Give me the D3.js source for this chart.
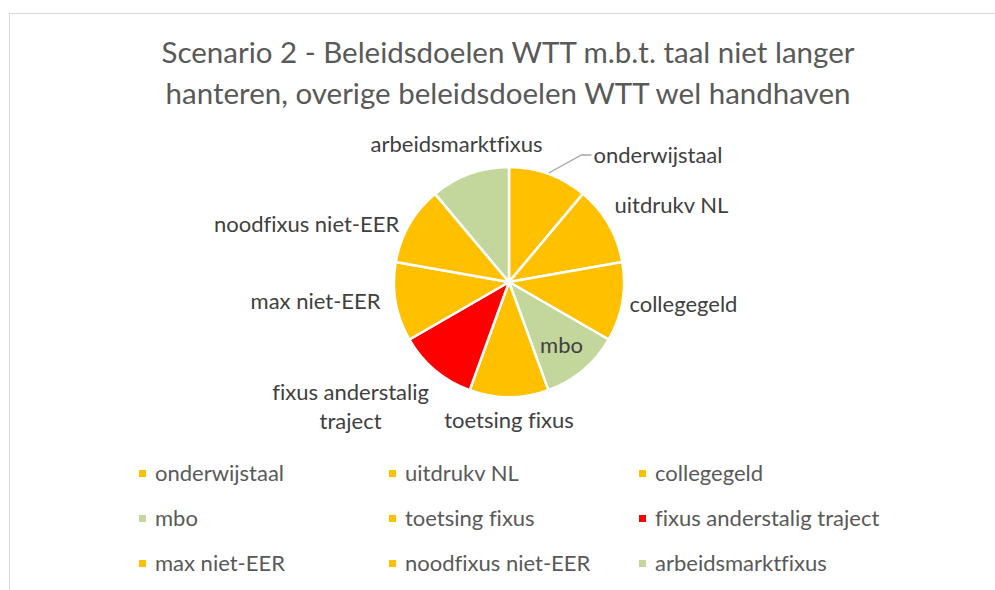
<!DOCTYPE html>
<html lang="nl">
<head>
<meta charset="UTF-8">
<script src="https://d3js.org/d3.v7.min.js"></script>
<style>
    body { margin: 0; background: #fff; font-family: Lato, "Open Sans", sans-serif; }
    svg { display: block; }
    text { font-variant-ligatures: none; }
</style>
</head>
<body>
<svg width="995" height="590"></svg>
<script>
// data: nine equal slices
const categories = ["onderwijstaal", "uitdrukv NL", "collegegeld", "mbo", "toetsing fixus",
    "fixus anderstalig traject", "max niet-EER", "noodfixus niet-EER", "arbeidsmarktfixus"];
const values = [1, 1, 1, 1, 1, 1, 1, 1, 1];
const status = ["orange", "orange", "orange", "green", "orange", "red", "orange", "orange", "green"];
const titleLines = ["Scenario 2 - Beleidsdoelen WTT m.b.t. taal niet langer",
    "hanteren, overige beleidsdoelen WTT wel handhaven"];

// label placement: angle nudge (deg) from slice middle, distance as factor of radius
const labelPlace = [
    { nudge: 30, k: 1.691, leader: true },
    { nudge: 5.2, k: 1.556 },
    { nudge: -2.2, k: 1.531 },
    { nudge: 1.1, k: 0.727 },
    { nudge: 0, k: 1.217 },
    { nudge: 11.4, k: 1.763, lines: ["fixus anderstalig", "traject"] },
    { nudge: 3.8, k: 1.692 },
    { nudge: -14.5, k: 1.827 },
    { nudge: -1.1, k: 1.268 }
];

const colorOf = { orange: "#FFC000", green: "#C3D69B", red: "#FF0000" };
const textColor = "#595959";

const svg = d3.select("svg");

// chart frame
svg.append("path")
    .attr("d", "M9.5,590 V13.5 H995")
    .attr("fill", "none")
    .attr("stroke", "#d9d9d9")
    .attr("stroke-width", 1);

// title
svg.append("g").selectAll("text")
    .data(titleLines)
    .join("text")
    .attr("x", 508)
    .attr("y", (d, i) => 63 + i * 41)
    .attr("text-anchor", "middle")
    .attr("fill", textColor)
    .style("font-size", "29.5px")
    .text(d => d);

const cx = 509, cy = 282, r = 115;
const g = svg.append("g").attr("transform", `translate(${cx},${cy})`);

const pie = d3.pie().sort(null).value(d => d.v);
const arcs = pie(categories.map((c, i) => ({ name: c, v: values[i], s: status[i] })));
const arc = d3.arc().innerRadius(0).outerRadius(r);

g.selectAll("path.slice")
    .data(arcs)
    .join("path")
    .attr("class", "slice")
    .attr("d", arc)
    .attr("fill", d => colorOf[d.data.s])
    .attr("stroke", "#fff")
    .attr("stroke-width", 2.5)
    .attr("stroke-linejoin", "round");

function polar(a, rad) {
    return [Math.sin(a) * rad, -Math.cos(a) * rad];
}

const labelSize = 22;
arcs.forEach((d, i) => {
    const p = labelPlace[i];
    const mid = (d.startAngle + d.endAngle) / 2;
    const [lx, ly] = polar(mid + p.nudge * Math.PI / 180, r * p.k);
    const lines = p.lines || [d.data.name];
    const t = g.append("text")
        .attr("text-anchor", "middle")
        .attr("fill", "#404040")
        .style("font-size", labelSize + "px");
    lines.forEach((ln, j) => {
        t.append("tspan")
            .attr("x", lx)
            .attr("y", ly + 6 + (j - (lines.length - 1) / 2) * 29)
            .text(ln);
    });
    if (p.leader) {
        const w = t.node().getComputedTextLength();
        const [sx, sy] = polar(mid, r + 1);
        const ex = lx - w / 2 - 2;
        g.append("path")
            .attr("d", `M${sx},${sy} L${ex - 10},${ly - 2} L${ex},${ly - 2}`)
            .attr("fill", "none")
            .attr("stroke", "#a6a6a6")
            .attr("stroke-width", 1.3);
    }
});

// legend: three columns
const legend = svg.append("g");
const item = legend.selectAll("g")
    .data(arcs)
    .join("g")
    .attr("transform", (d, i) => `translate(${139 + (i % 3) * 250},${473 + Math.floor(i / 3) * 45})`);
item.append("rect")
    .attr("x", 0).attr("y", -3)
    .attr("width", 7).attr("height", 7)
    .attr("fill", d => colorOf[d.data.s]);
item.append("text")
    .attr("x", 16)
    .attr("y", 8)
    .attr("fill", textColor)
    .style("font-size", labelSize + "px")
    .text(d => d.data.name);
</script>
</body>
</html>
